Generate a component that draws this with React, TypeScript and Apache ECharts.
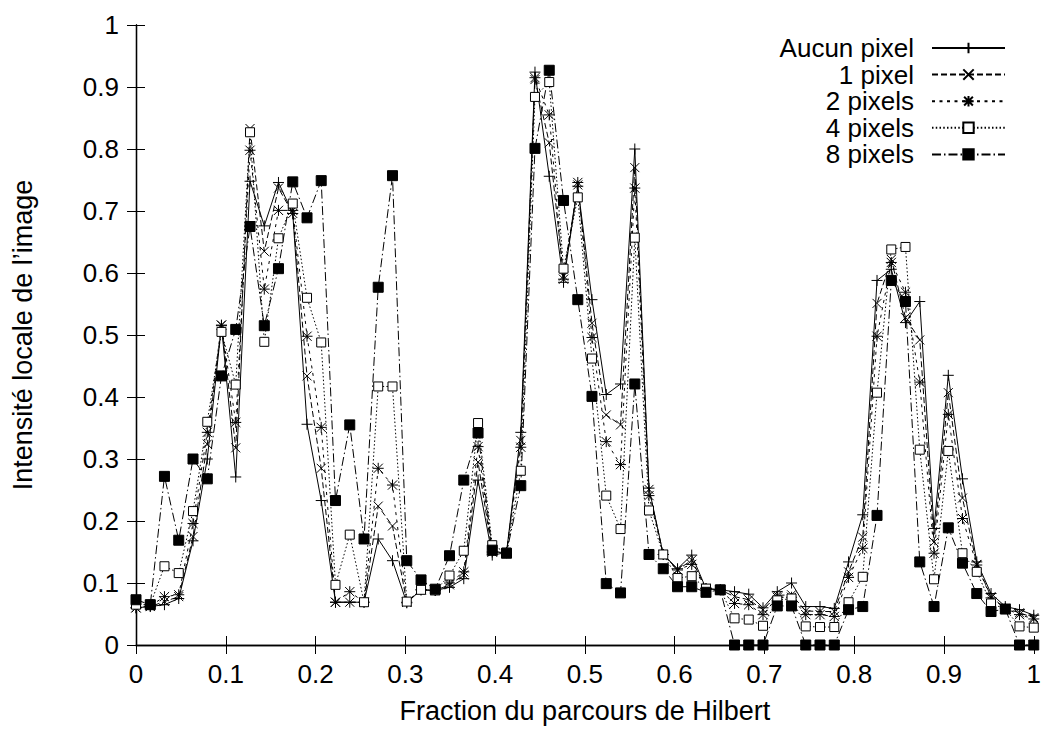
import React, { useEffect, useRef } from 'react';
import * as echarts from 'echarts';

// Fraction of the Hilbert path (x positions of the 64 samples)
const hilbertFraction = [
  0, 0.0159, 0.0317, 0.0476, 0.0635, 0.0794, 0.0952, 0.1111, 0.127, 0.1429,
  0.1587, 0.1746, 0.1905, 0.2063, 0.2222, 0.2381, 0.254, 0.2698, 0.2857, 0.3016,
  0.3175, 0.3333, 0.3492, 0.3651, 0.381, 0.3968, 0.4127, 0.4286, 0.4444, 0.4603,
  0.4762, 0.4921, 0.5079, 0.5238, 0.5397, 0.5556, 0.5714, 0.5873, 0.6032, 0.619,
  0.6349, 0.6508, 0.6667, 0.6825, 0.6984, 0.7143, 0.7302, 0.746, 0.7619, 0.7778,
  0.7937, 0.8095, 0.8254, 0.8413, 0.8571, 0.873, 0.8889, 0.9048, 0.9206, 0.9365,
  0.9524, 0.9683, 0.9841, 1,
];

const aucunPixel = [
  0.060, 0.062, 0.065, 0.075, 0.168, 0.300, 0.515, 0.271, 0.748, 0.676,
  0.746, 0.696, 0.356, 0.233, 0.069, 0.069, 0.069, 0.171, 0.136, 0.068,
  0.089, 0.088, 0.093, 0.107, 0.266, 0.145, 0.149, 0.343, 0.924, 0.756,
  0.585, 0.740, 0.557, 0.404, 0.421, 0.800, 0.253, 0.146, 0.123, 0.145,
  0.091, 0.089, 0.086, 0.082, 0.060, 0.086, 0.100, 0.062, 0.062, 0.059,
  0.134, 0.210, 0.588, 0.606, 0.520, 0.554, 0.188, 0.435, 0.268, 0.134,
  0.083, 0.062, 0.057, 0.048,
];

const unPixel = [
  0.060, 0.062, 0.070, 0.078, 0.175, 0.324, 0.516, 0.318, 0.833, 0.635,
  0.737, 0.696, 0.434, 0.285, 0.069, 0.069, 0.069, 0.224, 0.192, 0.069,
  0.089, 0.088, 0.097, 0.113, 0.295, 0.150, 0.149, 0.330, 0.912, 0.810,
  0.595, 0.742, 0.519, 0.371, 0.355, 0.770, 0.251, 0.146, 0.121, 0.137,
  0.091, 0.089, 0.078, 0.073, 0.057, 0.080, 0.081, 0.055, 0.054, 0.054,
  0.118, 0.174, 0.551, 0.622, 0.528, 0.492, 0.166, 0.407, 0.237, 0.130,
  0.078, 0.059, 0.052, 0.044,
];

const deuxPixels = [
  0.060, 0.063, 0.078, 0.081, 0.196, 0.343, 0.516, 0.359, 0.798, 0.574,
  0.701, 0.701, 0.498, 0.351, 0.069, 0.086, 0.069, 0.285, 0.258, 0.069,
  0.089, 0.088, 0.100, 0.118, 0.320, 0.150, 0.149, 0.319, 0.915, 0.855,
  0.590, 0.746, 0.496, 0.328, 0.291, 0.737, 0.241, 0.146, 0.121, 0.130,
  0.091, 0.089, 0.067, 0.065, 0.049, 0.077, 0.077, 0.049, 0.049, 0.046,
  0.109, 0.156, 0.498, 0.617, 0.569, 0.424, 0.148, 0.372, 0.204, 0.129,
  0.076, 0.059, 0.049, 0.042,
];

const quatrePixels = [
  0.065, 0.065, 0.127, 0.116, 0.216, 0.360, 0.505, 0.420, 0.827, 0.489,
  0.656, 0.712, 0.560, 0.488, 0.097, 0.178, 0.069, 0.417, 0.417, 0.070,
  0.089, 0.088, 0.112, 0.152, 0.358, 0.161, 0.149, 0.281, 0.884, 0.908,
  0.607, 0.722, 0.462, 0.241, 0.187, 0.657, 0.217, 0.146, 0.108, 0.111,
  0.091, 0.089, 0.043, 0.041, 0.031, 0.072, 0.075, 0.030, 0.029, 0.029,
  0.069, 0.110, 0.407, 0.638, 0.642, 0.315, 0.106, 0.313, 0.148, 0.118,
  0.067, 0.058, 0.030, 0.028,
];

const huitPixels = [
  0.073, 0.065, 0.272, 0.169, 0.300, 0.268, 0.434, 0.509, 0.675, 0.515,
  0.607, 0.747, 0.689, 0.749, 0.233, 0.355, 0.171, 0.577, 0.757, 0.136,
  0.105, 0.090, 0.144, 0.266, 0.342, 0.153, 0.148, 0.257, 0.801, 0.927,
  0.717, 0.557, 0.401, 0.099, 0.084, 0.421, 0.146, 0.123, 0.094, 0.094,
  0.085, 0.089, 0, 0, 0, 0.063, 0.063, 0, 0, 0,
  0.057, 0.062, 0.209, 0.588, 0.554, 0.134, 0.062, 0.189, 0.132, 0.083,
  0.054, 0.058, 0, 0,
];

const seriesNames = ['Aucun pixel', '1 pixel', '2 pixels', '4 pixels', '8 pixels'];
const tickLabels = ['0', '0.1', '0.2', '0.3', '0.4', '0.5', '0.6', '0.7', '0.8', '0.9', '1'];

const PLUS = 'path://M0,5L10,5M5,0L5,10';
const CROSS = 'path://M0,0L10,10M0,10L10,0';
const STAR = 'path://M0,5L10,5M5,0L5,10M0.8,0.8L9.2,9.2M0.8,9.2L9.2,0.8';

const FONT = '"Liberation Sans", Arial, Helvetica, sans-serif';

export default function App() {
  const ref = useRef<HTMLDivElement>(null);

  useEffect(() => {
    if (!ref.current) return;
    const chart = echarts.init(ref.current, null, { renderer: 'svg' });

    const mk = (name: string, values: number[], symbol: string, size: number, dash: any, fill: string) => ({
      name,
      type: 'line',
      data: hilbertFraction.map((x, i) => [x, values[i]]),
      symbol,
      symbolSize: size,
      clip: false,
      lineStyle: { color: '#000', width: 1, type: dash },
      itemStyle: { color: fill, borderColor: '#000', borderWidth: 1 },
      emphasis: { disabled: true },
    });

    const fmt = (v: number) => tickLabels[Math.round(v * 10)] ?? '';

    const axisCommon = {
      type: 'value',
      min: 0,
      max: 1,
      interval: 0.1,
      splitLine: { show: false },
      axisLine: { show: true, lineStyle: { color: '#000', width: 1.3 } },
      axisTick: { show: true, inside: true, length: 9, lineStyle: { color: '#000', width: 1 } },
    };

    chart.setOption({
      animation: false,
      backgroundColor: '#fff',
      textStyle: { fontFamily: FONT },
      grid: { left: 136, right: 5, top: 25, bottom: 82, containLabel: false },
      xAxis: [
        {
          ...axisCommon,
          position: 'bottom',
          name: 'Fraction du parcours de Hilbert',
          nameLocation: 'middle',
          nameGap: 52,
          nameTextStyle: { fontSize: 27, color: '#000', fontFamily: FONT },
          axisLabel: { fontSize: 26, color: '#000', margin: 16, formatter: fmt, fontFamily: FONT },
        },
        {
          ...axisCommon,
          position: 'top',
          axisLabel: { show: false },
        },
      ],
      yAxis: [
        {
          ...axisCommon,
          position: 'left',
          name: 'Intensité locale de l’image',
          nameLocation: 'middle',
          nameGap: 100,
          nameTextStyle: { fontSize: 27, color: '#000', fontFamily: FONT },
          axisLabel: { fontSize: 26, color: '#000', margin: 17, formatter: fmt, fontFamily: FONT },
        },
        {
          ...axisCommon,
          position: 'right',
          axisLabel: { show: false },
        },
      ],
      legend: {
        orient: 'vertical',
        right: 38,
        top: 35,
        align: 'right',
        itemWidth: 73,
        itemHeight: 13,
        itemGap: 0.6,
        padding: 0,
        selectedMode: false,
        textStyle: { fontSize: 26, color: '#000', fontFamily: FONT, lineHeight: 26, padding: [0, 13, 0, 0] },
        data: seriesNames,
      },
      series: [
        mk(seriesNames[0], aucunPixel, PLUS, 11, 'solid', '#000'),
        mk(seriesNames[1], unPixel, CROSS, 9, [6, 3], '#000'),
        mk(seriesNames[2], deuxPixels, STAR, 11, [3, 4.5], '#000'),
        mk(seriesNames[3], quatrePixels, 'rect', 9, [1.5, 2.25], '#fff'),
        mk(seriesNames[4], huitPixels, 'rect', 10, [9, 3, 1.5, 3], '#000'),
      ],
    });

    return () => chart.dispose();
  }, []);

  return (
    <div
      ref={ref}
      style={{ position: 'fixed', left: 0, top: 0, width: 1044, height: 729, background: '#fff' }}
    />
  );
}
